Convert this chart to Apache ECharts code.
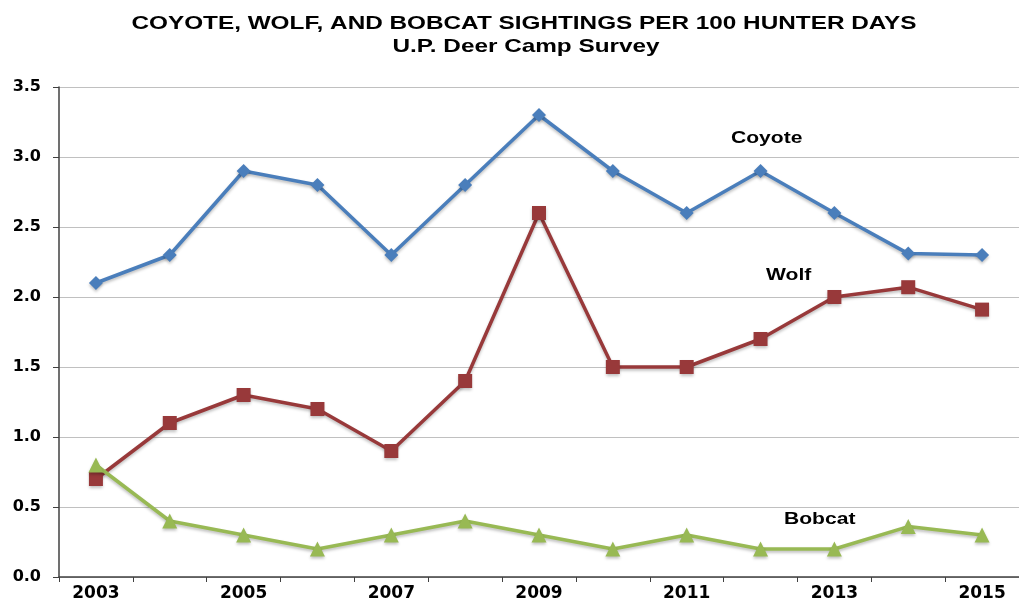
<!DOCTYPE html>
<html><head><meta charset="utf-8">
<script src="https://cdn.jsdelivr.net/npm/echarts@6/dist/echarts.min.js"></script>
<style>html,body{margin:0;padding:0;background:#fff}#c{width:1019px;height:603px}</style>
</head><body><div id="c"></div>
<script>
const years = ['2003','2004','2005','2006','2007','2008','2009','2010','2011','2012','2013','2014','2015'];
const coyote = [2.1, 2.3, 2.9, 2.8, 2.3, 2.8, 3.3, 2.9, 2.6, 2.9, 2.6, 2.31, 2.3];
const wolf   = [0.7, 1.1, 1.3, 1.2, 0.9, 1.4, 2.6, 1.5, 1.5, 1.7, 2.0, 2.07, 1.91];
const bobcat = [0.8, 0.4, 0.3, 0.2, 0.3, 0.4, 0.3, 0.2, 0.3, 0.2, 0.2, 0.36, 0.3];
const titleText = 'COYOTE, WOLF, AND BOBCAT SIGHTINGS PER 100 HUNTER DAYS';
const subtitleText = 'U.P. Deer Camp Survey';
const seriesNames = ['Coyote', 'Wolf', 'Bobcat'];

const chart = echarts.init(document.getElementById('c'));
const font = '"Liberation Sans", Arial, sans-serif';
const wide = '"DejaVu Sans", sans-serif';
function ser(name, data, color, symbol, size) {
  return {
    name, type: 'line', data, symbol, symbolSize: size,
    lineStyle: {color, width: 3.5, shadowBlur: 3, shadowColor: 'rgba(0,0,0,0.25)', shadowOffsetY: 2},
    itemStyle: {color, shadowBlur: 3, shadowColor: 'rgba(0,0,0,0.25)', shadowOffsetY: 2},
    emphasis: {disabled: true}, z: name === 'Bobcat' ? 3 : 2
  };
}
function label(text, x, y, size, sx, align) {
  return {type: 'text', x, y, scaleX: sx, z: 10,
    style: {text, font: 'bold ' + size + 'px ' + font, fill: '#000',
      textAlign: align || 'left', textVerticalAlign: 'middle'}};
}
chart.setOption({
  animation: false,
  grid: {left: 59, right: -10, top: 87, bottom: 26},
  xAxis: {
    type: 'category', data: years, boundaryGap: true,
    axisLine: {lineStyle: {color: '#404040', width: 1.5}},
    axisTick: {show: true, length: 5, interval: 0, lineStyle: {color: '#404040'}},
    axisLabel: {interval: 1, fontFamily: wide, fontSize: 17, fontWeight: 'bold', color: '#000', margin: 8},
    splitLine: {show: false}
  },
  yAxis: {
    type: 'value', min: 0, max: 3.5, interval: 0.5,
    axisLine: {show: true, lineStyle: {color: '#404040', width: 1.5}},
    axisTick: {show: true, length: 6, lineStyle: {color: '#404040'}},
    axisLabel: {fontFamily: wide, fontSize: 16, fontWeight: 'bold', color: '#000', margin: 18,
      formatter: v => v.toFixed(1)},
    splitLine: {lineStyle: {color: '#c0c0c0', width: 1}}
  },
  series: [
    ser(seriesNames[0], coyote, '#4a7ebb', 'diamond', 14),
    ser(seriesNames[1], wolf, '#98393a', 'rect', 14),
    ser(seriesNames[2], bobcat, '#98b954', 'triangle', 15)
  ],
  graphic: [
    label(titleText, 524, 23.5, 19, 1.28, 'center'),
    label(subtitleText, 526, 46.5, 19, 1.28, 'center'),
    label(seriesNames[0], 731, 138.5, 17, 1.24),
    label(seriesNames[1], 766, 275, 17, 1.24),
    label(seriesNames[2], 784, 519.5, 17, 1.24)
  ]
});
</script></body></html>
